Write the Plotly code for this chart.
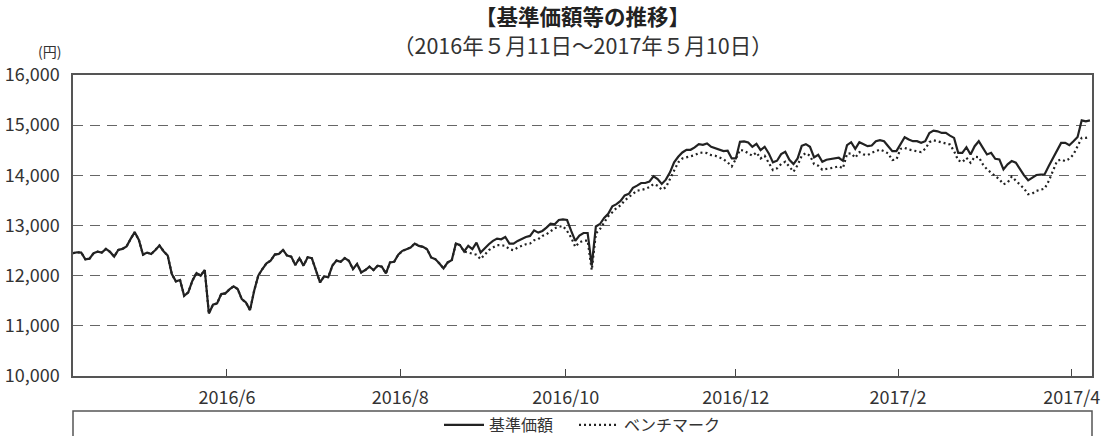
import plotly.graph_objects as go

# trading-day index (business days of the period)
day_index = list(range(248))

nav = [
    12447, 12467, 12460, 12327, 12340, 12447, 12480, 12460, 12533, 12473,
    12380, 12513, 12533, 12580, 12733, 12867, 12713, 12420, 12460, 12433,
    12513, 12600, 12487, 12400, 12033, 11887, 11913, 11600, 11667, 11900,
    12053, 12000, 12113, 11247, 11420, 11447, 11633, 11647, 11727, 11787,
    11733, 11533, 11467, 11313, 11700, 12000, 12133, 12247, 12300, 12420,
    12433, 12513, 12400, 12380, 12213, 12347, 12200, 12367, 12347, 12100,
    11867, 11987, 11967,
    12200, 12300, 12277, 12350, 12297, 12132, 12231, 12066, 12112, 12178,
    12112, 12198, 12178, 12046, 12264, 12277, 12416, 12495, 12528, 12561,
    12640, 12594, 12574, 12528, 12363, 12330, 12244, 12145, 12264, 12310,
    12640, 12607, 12482, 12594, 12528, 12660, 12462, 12548, 12627, 12693,
    12739, 12726, 12772, 12640, 12640, 12693, 12739, 12772, 12792, 12904,
    12858, 12891, 12957, 13036, 13023, 13109, 13122, 13109, 12891, 12693,
    12800, 12850,
    12850, 12200, 12980, 13030, 13150, 13232, 13384, 13425, 13490, 13600,
    13630, 13750, 13795, 13847, 13847, 13874, 13980, 13927, 13828, 13914,
    14059, 14258, 14370, 14456, 14509, 14509, 14556, 14622, 14608, 14635,
    14569, 14542, 14509, 14483, 14490, 14337, 14337, 14668, 14675, 14655,
    14569, 14628, 14503, 14569, 14437, 14258, 14291, 14423, 14470, 14311,
    14225, 14337, 14589, 14622, 14569, 14357, 14410, 14271, 14311, 14324,
    14337, 14350,
    14290, 14600, 14660, 14528, 14660, 14627, 14581, 14594, 14680, 14700,
    14680, 14581, 14482, 14482, 14627, 14759, 14713, 14680, 14680, 14647,
    14680, 14845, 14891, 14878, 14845, 14845, 14792, 14746, 14449, 14449,
    14561, 14416, 14581, 14680, 14548, 14416, 14449, 14330, 14317, 14119,
    14218, 14284, 14251, 14119, 14000, 13901, 13954, 14007, 14013, 14020,
    14185, 14330, 14495, 14647, 14647, 14601, 14680, 14766, 15096, 15076,
    15096,
]

benchmark = [
    12447, 12467, 12460, 12327, 12340, 12447, 12480, 12460, 12533, 12473,
    12380, 12513, 12533, 12580, 12733, 12867, 12713, 12420, 12460, 12433,
    12513, 12600, 12487, 12400, 12033, 11887, 11913, 11600, 11667, 11900,
    12053, 12000, 12113, 11247, 11420, 11447, 11633, 11647, 11727, 11787,
    11733, 11533, 11467, 11313, 11700, 12000, 12133, 12247, 12300, 12420,
    12433, 12513, 12400, 12380, 12213, 12347, 12200, 12367, 12347, 12100,
    11867, 11987, 11967,
    12200, 12300, 12277, 12350, 12297, 12132, 12231, 12066, 12112, 12178,
    12112, 12198, 12178, 12046, 12264, 12277, 12416, 12495, 12528, 12561,
    12640, 12594, 12574, 12528, 12363, 12330, 12244, 12145, 12264, 12310,
    12640, 12607, 12482, 12462, 12442, 12416, 12330, 12429, 12508, 12561,
    12607, 12607, 12594, 12528, 12508, 12561, 12594, 12627, 12640, 12706,
    12726, 12792, 12825, 12891, 12944, 12977, 12990, 12891, 12759, 12574,
    12665, 12700,
    12700, 12110, 12840, 12930, 13060, 13185, 13265, 13350, 13400, 13500,
    13565, 13635, 13695, 13708, 13728, 13765, 13828, 13794, 13715, 13761,
    13927, 14125, 14258, 14337, 14357, 14390, 14403, 14443, 14456, 14443,
    14403, 14390, 14357, 14324, 14258, 14178, 14324, 14509, 14490, 14437,
    14390, 14456, 14337, 14390, 14258, 14106, 14139, 14225, 14271, 14172,
    14072, 14205, 14390, 14443, 14390, 14225, 14192, 14112, 14125, 14145,
    14158, 14180,
    14140, 14430, 14440, 14350, 14462, 14416, 14403, 14449, 14482, 14515,
    14482, 14436, 14304, 14317, 14528, 14548, 14515, 14495, 14482, 14462,
    14528, 14660, 14700, 14680, 14660, 14647, 14614, 14482, 14297, 14264,
    14350, 14251, 14370, 14363, 14218, 14119, 14053, 14000, 13921, 13822,
    13855, 13974, 13888, 13822, 13736, 13624, 13637, 13690, 13710, 13736,
    13888, 14106, 14284, 14317, 14284, 14330, 14416, 14581, 14746, 14746,
    14766,
]

tick_pos = [37.4, 79.5, 119.7, 161.0, 200.4, 242.6]
tick_labels = ["2016/6", "2016/8", "2016/10", "2016/12", "2017/2", "2017/4"]

FONT = "Noto Sans CJK JP"
TXT = "#333333"

fig = go.Figure()
fig.add_trace(go.Scatter(
    x=day_index, y=benchmark, mode="lines", name="ベンチマーク",
    line=dict(color="#222222", width=2.2, dash="2px,3px"),
))
fig.add_trace(go.Scatter(
    x=day_index, y=nav, mode="lines", name="基準価額\u3000",
    line=dict(color="#222222", width=2.2),
))

fig.update_layout(
    width=1103, height=436,
    margin=dict(l=73, r=11, t=75, b=60, autoexpand=False),
    paper_bgcolor="white", plot_bgcolor="white",
    font=dict(family=FONT, size=16, color=TXT),
    showlegend=True,
    legend=dict(
        orientation="h", x=0.5, xanchor="center", y=-0.163, yanchor="middle",
        font=dict(family=FONT, size=16, color=TXT),
        traceorder="reversed", itemwidth=40,
        bgcolor="rgba(0,0,0,0)",
    ),
    xaxis=dict(
        range=[0, 247.5], showgrid=False, zeroline=False, automargin=False,
        tickmode="array", tickvals=tick_pos, ticktext=tick_labels,
        ticks="inside", ticklen=7, tickwidth=1.2, tickcolor="#444",
        ticklabelstandoff=5,
        showline=True, linecolor="#555", linewidth=1.5, mirror=True,
        tickfont=dict(family=FONT, size=18, color=TXT),
    ),
    yaxis=dict(
        range=[10000, 16000], dtick=1000, tickformat=",d", automargin=False,
        showgrid=True, gridcolor="#666666", gridwidth=1.2, griddash="10px,7px",
        zeroline=False, ticks="", ticklabelstandoff=8,
        showline=True, linecolor="#555", linewidth=1.5, mirror=True,
        tickfont=dict(family=FONT, size=18, color=TXT),
    ),
    shapes=[dict(
        type="rect", xref="paper", yref="paper",
        x0=0, x1=1, y0=-0.116, y1=-0.30,
        line=dict(color="#555", width=1.5), fillcolor="rgba(0,0,0,0)",
        layer="below",
    )],
    annotations=[
        dict(text="<b>【基準価額等の推移】</b>", xref="paper", yref="paper",
             x=0.5, y=1, yshift=60, xanchor="center", yanchor="middle",
             showarrow=False, font=dict(family=FONT, size=21.5, color="#222")),
        dict(text="（2016年５月11日～2017年５月10日）", xref="paper", yref="paper",
             x=0.5, y=1, yshift=31, xanchor="center", yanchor="middle",
             showarrow=False, font=dict(family=FONT, size=21.5, color=TXT)),
        dict(text="(円)", xref="paper", yref="paper",
             x=0, y=1, xshift=-10, yshift=24, xanchor="right", yanchor="middle",
             showarrow=False, font=dict(family=FONT, size=14, color=TXT)),
    ],
)

fig.write_html(
    "out.html",
    config={"displayModeBar": False},
    post_script="document.body.style.margin='0';document.body.style.overflow='hidden';",
)
